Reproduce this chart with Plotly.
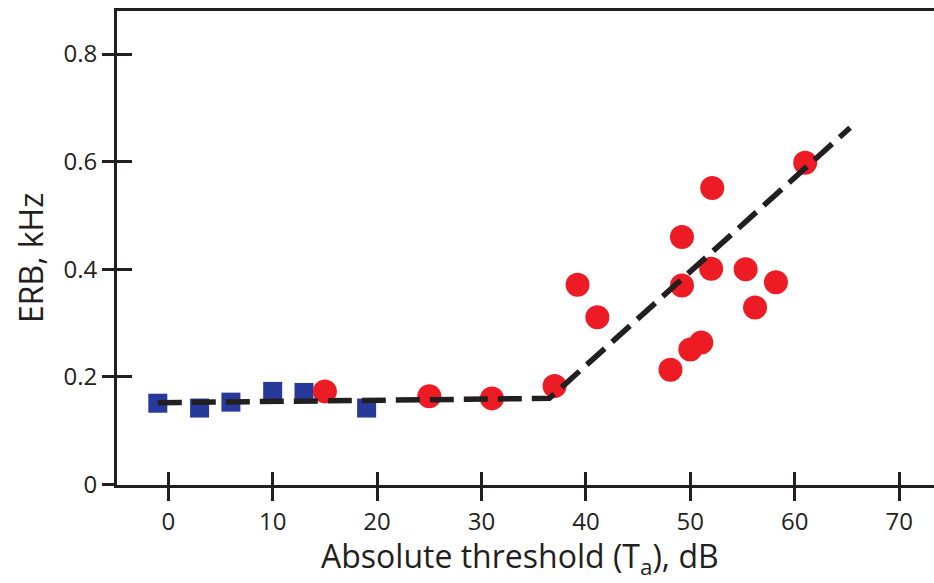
import plotly.graph_objects as go

# Data
blue_x = [-1, 3, 6, 10, 13, 19]
blue_y = [0.151, 0.142, 0.153, 0.173, 0.171, 0.142]

red_x = [15, 25, 31, 37, 39.2, 41.1, 48.1, 50.0, 51.05, 49.2, 49.2, 52.1, 52.0, 55.3, 58.2, 56.2, 61.0]
red_y = [0.173, 0.164, 0.160, 0.183, 0.371, 0.311, 0.213, 0.251, 0.264, 0.460, 0.370, 0.551, 0.401, 0.400, 0.376, 0.329, 0.598]

fit_x = [-1, 36.5, 65.3]
fit_y = [0.152, 0.160, 0.663]

x_ticks = [0, 10, 20, 30, 40, 50, 60, 70]
y_ticks = [0, 0.2, 0.4, 0.6, 0.8]
y_labels = ["0", "0.2", "0.4", "0.6", "0.8"]

INK = "#231f20"
FONT = "Open Sans"
x_range = [-4.91, 73.34]
y_range = [-0.001, 0.88]

fig = go.Figure()
fig.add_trace(go.Scatter(x=blue_x, y=blue_y, mode="markers",
                         marker=dict(symbol="square", size=19, color="#27399a", line=dict(width=0)),
                         showlegend=False))
fig.add_trace(go.Scatter(x=red_x, y=red_y, mode="markers",
                         marker=dict(symbol="circle", size=24, color="#ed1c24", line=dict(width=0)),
                         showlegend=False))
fig.add_trace(go.Scatter(x=fit_x, y=fit_y, mode="lines",
                         line=dict(color=INK, width=5.5, dash="24px,10px"),
                         showlegend=False))
# invisible trace to carry the inner-tick axes
fig.add_trace(go.Scatter(x=[x_range[0]], y=[y_range[0]], xaxis="x2", yaxis="y2",
                         mode="markers", marker=dict(opacity=0), showlegend=False, hoverinfo="skip"))

fig.update_layout(
    width=934, height=583,
    margin=dict(l=117, r=0, t=11, b=98),
    paper_bgcolor="white", plot_bgcolor="white",
    font=dict(family=FONT, color=INK),
    xaxis=dict(range=x_range, showgrid=False, zeroline=False,
               showline=True, linecolor=INK, linewidth=3, mirror=True,
               ticks="outside", ticklen=13, tickwidth=3, tickcolor=INK,
               tickvals=x_ticks, tickfont=dict(size=24, color=INK)),
    yaxis=dict(range=y_range, showgrid=False, zeroline=False,
               showline=True, linecolor=INK, linewidth=3,
               ticks="outside", ticklen=12, tickwidth=3, tickcolor=INK,
               tickvals=y_ticks, ticktext=y_labels, tickfont=dict(size=24, color=INK)),
    xaxis2=dict(range=x_range, overlaying="x", anchor="y2", side="bottom",
                showgrid=False, zeroline=False, showline=False,
                ticks="inside", ticklen=13, tickwidth=3, tickcolor=INK,
                tickvals=x_ticks, showticklabels=False),
    yaxis2=dict(range=y_range, overlaying="y", anchor="x2", side="left",
                showgrid=False, zeroline=False, showline=False,
                ticks="inside", ticklen=15, tickwidth=3, tickcolor=INK,
                tickvals=y_ticks, showticklabels=False),
    annotations=[
        dict(text="Absolute threshold (T<sub>a</sub>), dB", xref="paper", yref="paper",
             x=(520 - 117) / 817, y=(485 - 558) / 474, xanchor="center", yanchor="middle",
             showarrow=False, font=dict(size=32, color=INK, family=FONT)),
        dict(text="ERB, kHz", xref="paper", yref="paper", textangle=-90,
             x=(30 - 117) / 817, y=(485 - 258) / 474, xanchor="center", yanchor="middle",
             showarrow=False, font=dict(size=32, color=INK, family=FONT)),
    ],
)

fig.write_html("out.html")
